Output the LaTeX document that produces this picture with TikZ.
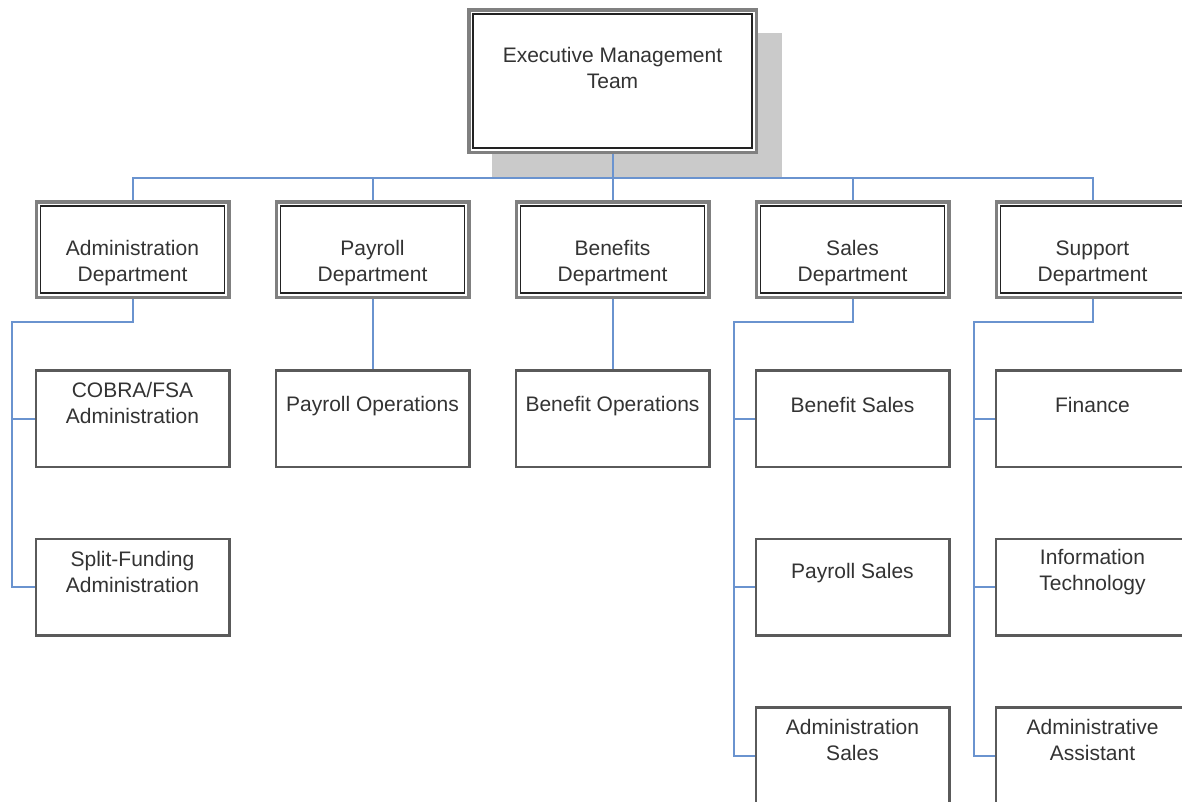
\documentclass[tikz,border=0pt]{standalone}
\usepackage{fontspec}
\setmainfont{Liberation Sans}
\definecolor{linkblue}{HTML}{6A93CF}
\definecolor{outgray}{HTML}{808080}
\definecolor{indark}{HTML}{222222}
\definecolor{subgray}{HTML}{5A5A5A}
\definecolor{shadowgray}{HTML}{CACACA}
\definecolor{txtgray}{HTML}{333333}
\begin{document}
\begin{tikzpicture}[x=1pt,y=-1pt,
  conn/.style={draw=linkblue, line width=2pt},
  topout/.style={draw=outgray, line width=3.5pt, fill=white, inner sep=0pt,
    minimum width=287.5pt, minimum height=142.5pt},
  topin/.style={draw=indark, line width=1.5pt, inner sep=0pt,
    minimum width=279pt, minimum height=134pt},
  dout/.style={draw=outgray, line width=3.5pt, fill=white, inner sep=0pt,
    minimum width=192.5pt, minimum height=95.5pt},
  din/.style={draw=indark, line width=1.5pt, inner sep=0pt,
    minimum width=184pt, minimum height=87pt},
  subbox/.style={draw=subgray, line width=2.5pt, fill=white, inner sep=0pt,
    minimum width=193.5pt, minimum height=96.5pt},
  txt/.style={font=\fontsize{21}{26}\selectfont, text=txtgray, align=center, inner sep=0pt}]
\useasboundingbox (0,0) rectangle (1182,801);
\clip (0,0) rectangle (1182,801);
\fill[white] (0,0) rectangle (1182,801);

% shadow of top box
\fill[shadowgray] (492,33) rectangle (782,177);

% top box
\node[topout] (top) at (612.5,81) {};
\node[topin] (topi) at (top) {};
\node[txt] (topt) at ([yshift=13.5pt]top.center) {Executive Management\\Team};

% departments
\node[dout] (adm) at (132.5,249.5) {};
\node[dout] (pay) at (372.5,249.5) {};
\node[dout] (ben) at (612.5,249.5) {};
\node[dout] (sal) at (852.5,249.5) {};
\node[dout] (sup) at (1092.5,249.5) {};
\node[din] (admi) at (adm) {};
\node[din] (payi) at (pay) {};
\node[din] (beni) at (ben) {};
\node[din] (sali) at (sal) {};
\node[din] (supi) at (sup) {};
\node[txt] (admt) at ([yshift=-13.5pt]adm.center) {Administration\\Department};
\node[txt] (payt) at ([yshift=-13.5pt]pay.center) {Payroll\\Department};
\node[txt] (bent) at ([yshift=-13.5pt]ben.center) {Benefits\\Department};
\node[txt] (salt) at ([yshift=-13.5pt]sal.center) {Sales\\Department};
\node[txt] (supt) at ([yshift=-13.5pt]sup.center) {Support\\Department};

% sub units
\node[subbox] (cobra) at (132.5,418.5) {};
\node[subbox] (split) at (132.5,587) {};
\node[subbox] (payops) at (372.5,418.5) {};
\node[subbox] (benops) at (612.5,418.5) {};
\node[subbox] (bsales) at (852.5,418.5) {};
\node[subbox] (psales) at (852.5,587) {};
\node[subbox] (asales) at (852.5,755.5) {};
\node[subbox] (fin) at (1092.5,418.5) {};
\node[subbox] (it) at (1092.5,587) {};
\node[subbox] (assist) at (1092.5,755.5) {};
\node[txt] (cobrat) at ([yshift=15.5pt]cobra.center) {COBRA/FSA\\Administration};
\node[txt] (splitt) at ([yshift=15.5pt]split.center) {Split-Funding\\Administration};
\node[txt] (payopst) at ([yshift=12pt]payops.center) {Payroll Operations};
\node[txt] (benopst) at ([yshift=12pt]benops.center) {Benefit Operations};
\node[txt] (bsalest) at ([yshift=14pt]bsales.center) {Benefit Sales};
\node[txt] (psalest) at ([yshift=14pt]psales.center) {Payroll Sales};
\node[txt] (asalest) at ([yshift=15.5pt]asales.center) {Administration\\Sales};
\node[txt] (fint) at ([yshift=14pt]fin.center) {Finance};
\node[txt] (itt) at ([yshift=15pt]it.center) {Information\\Technology};
\node[txt] (assistt) at ([yshift=15.5pt]assist.center) {Administrative\\Assistant};

% connectors: top to departments
\draw[conn] (top.south) -- ++(0,24) coordinate (bus);
\draw[conn] (adm.north) |- (bus) -| (sup.north);
\draw[conn] (pay.north) -- (pay.north |- bus);
\draw[conn] (ben.north) -- (ben.north |- bus);
\draw[conn] (sal.north) -- (sal.north |- bus);

% administration
\coordinate (admj) at (12,322);
\draw[conn] (adm.south) |- (admj) |- (split.west);
\draw[conn] (admj |- cobra.west) -- (cobra.west);

% payroll and benefits
\draw[conn] (pay.south) -- (payops.north);
\draw[conn] (ben.south) -- (benops.north);

% sales
\coordinate (salj) at (734,322);
\draw[conn] (sal.south) |- (salj) |- (asales.west);
\draw[conn] (salj |- bsales.west) -- (bsales.west);
\draw[conn] (salj |- psales.west) -- (psales.west);

% support
\coordinate (supj) at (974,322);
\draw[conn] (sup.south) |- (supj) |- (assist.west);
\draw[conn] (supj |- fin.west) -- (fin.west);
\draw[conn] (supj |- it.west) -- (it.west);
\end{tikzpicture}
\end{document}
